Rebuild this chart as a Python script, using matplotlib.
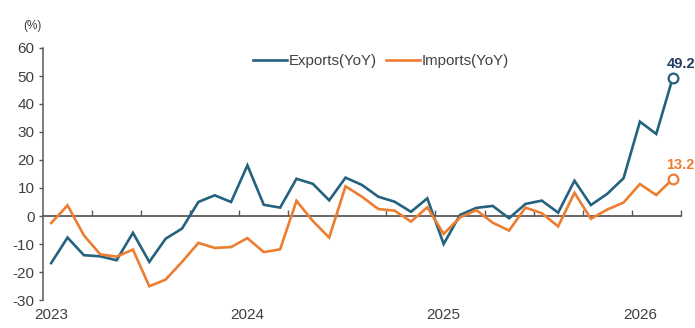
import matplotlib
matplotlib.use("Agg")
import matplotlib.pyplot as plt
from matplotlib.lines import Line2D
import numpy as np
import pandas as pd

plt.rcParams['font.family'] = ['Liberation Sans', 'DejaVu Sans']

# ---- data ----
months = pd.date_range('2023-01-01', '2026-03-01', freq='MS')
exports = [-16.8, -7.7, -14.0, -14.4, -15.8, -6.0, -16.4, -8.1, -4.5, 5.0,
           7.4, 5.0, 18.1, 4.0, 3.0, 13.3, 11.5, 5.6, 13.7, 11.1,
           6.9, 5.1, 1.5, 6.3, -10.0, 0.4, 2.9, 3.6, -0.8, 4.3,
           5.5, 1.2, 12.6, 3.9, 7.9, 13.5, 33.7, 29.3, 49.2]
imports = [-2.5, 3.8, -6.9, -13.7, -14.5, -12.0, -25.1, -22.7, -16.4, -9.6,
           -11.4, -11.1, -7.9, -12.9, -11.9, 5.4, -1.8, -7.7, 10.6, 6.9,
           2.5, 1.9, -2.0, 3.1, -6.4, -0.5, 2.1, -2.4, -5.2, 3.0,
           1.0, -3.7, 8.3, -1.0, 2.3, 4.8, 11.4, 7.5, 13.2]
series_names = ['Exports(YoY)', 'Imports(YoY)']
y_ticks = [-30, -20, -10, 0, 10, 20, 30, 40, 50, 60]
unit_label = '(%)'

EXP_C = '#24627f'
IMP_C = '#ed7d31'
LBL_EXP_C = '#1f3a60'
AX_C = '#595959'
TXT_C = '#404040'

fig = plt.figure(figsize=(6.95, 3.28), dpi=100)
ax = fig.add_axes([43/695, 28/328, (680.8-43)/695, 252/328])

x = np.arange(len(months))
ax.plot(x, exports, color=EXP_C, lw=1.9, solid_joinstyle='miter', zorder=3)
ax.plot(x, imports, color=IMP_C, lw=1.9, solid_joinstyle='miter', zorder=3)

# end markers and labels
for vals, c, lc in [(exports, EXP_C, LBL_EXP_C), (imports, IMP_C, IMP_C)]:
    ax.plot([x[-1]], [vals[-1]], marker='o', ms=7, mfc='white', mec=c, mew=1.6,
            zorder=4, clip_on=False)
    ax.annotate(f'{vals[-1]:.1f}', xy=(x[-1], vals[-1]), xytext=(-4.5, 7.5),
                textcoords='offset points', ha='left', va='baseline',
                fontsize=10.5, fontweight='bold', color=lc, annotation_clip=False)

ymin, ymax = y_ticks[0], y_ticks[-1]
ax.set_xlim(-0.5, len(months) - 0.5)
ax.set_ylim(ymin, ymax)

for s in ['top', 'right', 'bottom']:
    ax.spines[s].set_visible(False)
ax.spines['left'].set_color(AX_C)
ax.spines['left'].set_linewidth(1.1)
ax.set_yticks(y_ticks)
ax.set_yticklabels([str(v) for v in y_ticks])
ax.tick_params(axis='y', direction='out', length=3, width=1.0, color=AX_C,
               labelsize=11, labelcolor=TXT_C, pad=3)

# year labels at the bottom (January positions)
jan_idx = [i for i, m in enumerate(months) if m.month == 1]
ax.set_xticks(jan_idx)
ax.set_xticklabels([str(months[i].year) for i in jan_idx])
ax.tick_params(axis='x', length=0, labelsize=11, labelcolor=TXT_C, pad=6)

# zero axis line with quarterly ticks at category boundaries
zero_pos = (0 - ymin) / (ymax - ymin)
sec = ax.secondary_xaxis(zero_pos)
sec.spines['bottom'].set_color(AX_C)
sec.spines['bottom'].set_linewidth(1.3)
sec.set_xticks(np.arange(2.5, len(months), 3))
sec.set_xticklabels([])
sec.tick_params(axis='x', direction='in', length=4, width=1.0, color=AX_C)

# legend
handles = [Line2D([], [], color=EXP_C, lw=1.9), Line2D([], [], color=IMP_C, lw=1.9)]
leg = ax.legend(handles, series_names, loc='center', bbox_to_anchor=(0.53, 0.948),
                ncol=2, frameon=False, fontsize=10.8, handlelength=2.25,
                handletextpad=0.15, columnspacing=0.6, borderpad=0)
for t in leg.get_texts():
    t.set_color(TXT_C)

fig.text(32/695, 1 - 26/328, unit_label, ha='center', va='center', fontsize=8.5,
         color=TXT_C)

fig.savefig('out.png', dpi=100)
